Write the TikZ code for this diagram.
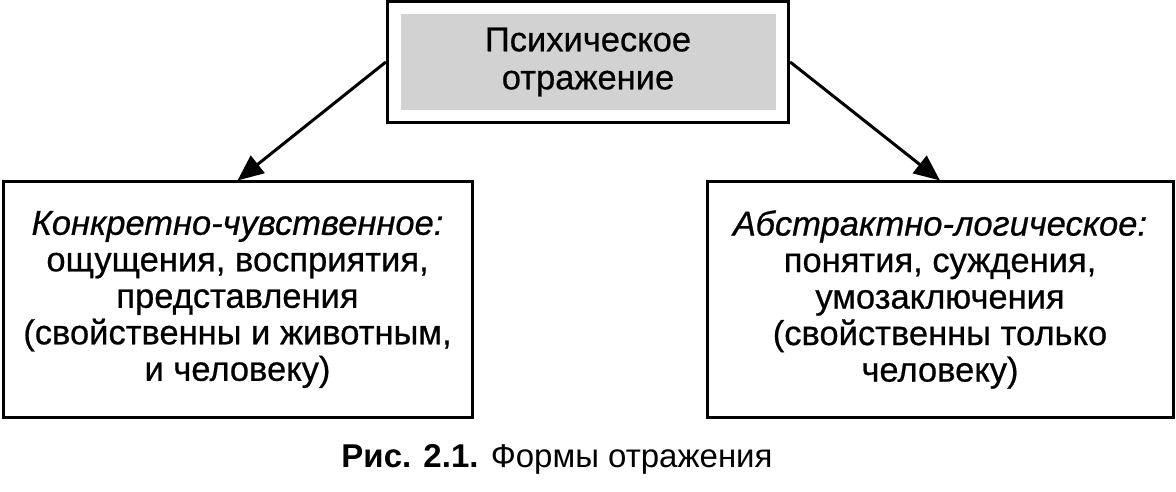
\documentclass[tikz,border=0pt]{standalone}
\usepackage{fontspec}
\setmainfont{Liberation Sans}
\newfontfamily\heavyfont{Liberation Sans}[FakeBold=0.6]
\usepackage{tikz}
\usetikzlibrary{arrows.meta, fit}
\tikzstyle{graybox} = [rectangle, minimum width=375pt, minimum height=96pt, text centered, align=center, fill=gray!35, font=\heavyfont\fontsize{34.5}{38}\selectfont]
\tikzstyle{topbox} = [rectangle, draw=black, line width=3pt, inner xsep=13pt, inner ysep=12pt]
\tikzstyle{formbox} = [rectangle, minimum height=235pt, text centered, align=center, draw=black, line width=3pt, font=\heavyfont\fontsize{34.5}{36.5}\selectfont]
\tikzstyle{arrow} = [line width=3pt, -{Triangle[length=26pt, width=22pt]}]

\begin{document}
\begin{tikzpicture}[x=1pt, y=-1pt]
        \useasboundingbox (0,0) rectangle (1176,492);

        % Верхний блок
        \node (psy) [graybox] at (588,62) {Психическое\\отражение};
        \node (top) [topbox, fit=(psy)] {};

        % Две формы отражения
        \node (sense) [formbox, minimum width=469pt] at (237.5,299.5) {\textit{Конкретно-чувственное:}\\ощущения, восприятия,\\представления\\(свойственны и животным,\\и человеку)};
        \node (logic) [formbox, minimum width=466pt] at (940,299.5) {\textit{Абстрактно-логическое:}\\понятия, суждения,\\умозаключения\\(свойственны только\\человеку)};

        % Подпись
        \node (caption) [font=\fontsize{33}{38}\selectfont] at (557,459) {\textbf{Рис. 2.1.} Формы отражения};

        % Стрелки
        \draw [arrow] (top.west) -- (sense.north);
        \draw [arrow] (top.east) -- (logic.north);
\end{tikzpicture}
\end{document}
